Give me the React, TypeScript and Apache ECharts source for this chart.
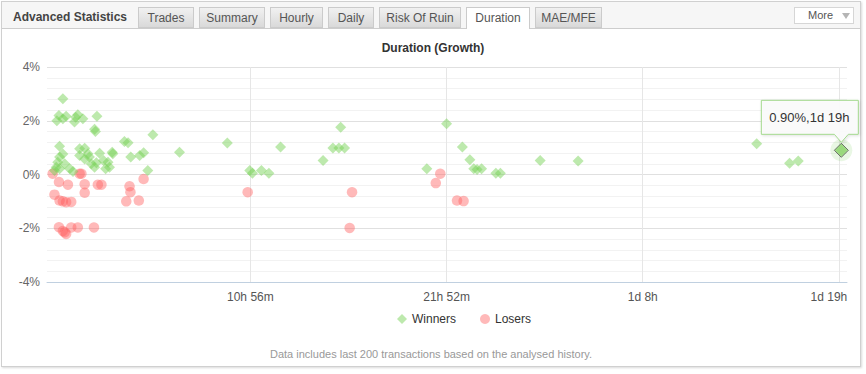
import React, { useEffect, useRef } from "react";
import * as echarts from "echarts";

// ---- data ----
const chartTitle = "Duration (Growth)";
const footerText = "Data includes last 200 transactions based on the analysed history.";
const panelTitle = "Advanced Statistics";
const tabNames = ["Trades", "Summary", "Hourly", "Daily", "Risk Of Ruin", "Duration", "MAE/MFE"];
const activeTab = "Duration";
const seriesNames = ["Winners", "Losers"];

// x tick values in minutes and their labels
const xTicks = [656, 1312, 1968, 2624];
const xTickLabels = ["10h 56m", "21h 52m", "1d 8h", "1d 19h"];

// winners: duration (minutes), growth (%)
const winnersMinutes = [
  29, 16, 9, 29, 40, 72, 79, 68, 96, 143, 135, 138, 18, 29, 18, 12, 7, 18, 1, 35,
  52, 63, 85, 102, 85, 113, 118, 102, 124, 135, 152, 141, 165, 180, 172, 185, 194, 196, 235, 247,
  256, 286, 299, 313, 330, 419, 579, 654, 663, 693, 718, 757, 899, 932, 952, 971, 958, 1246, 1312, 1365,
  1390, 1403, 1414, 1429, 1477, 1492, 1625, 1752, 2349, 2459, 2488, 2632,
];
const winnersGrowth = [
  2.82, 2.2, 2.0, 2.07, 2.17, 2.13, 2.22, 1.95, 2.07, 2.17, 1.68, 1.6, 1.05, 0.76, 0.65, 0.46, 0.27, 0.21, 0.15, 0.4,
  0.21, 0.11, 0.96, 0.98, 0.71, 0.77, 0.65, 0.58, 0.4, 0.27, 0.79, 0.44, 0.52, 0.46, 0.21, 0.27, 0.83, 0.77, 1.23, 1.18,
  0.65, 0.71, 0.81, 0.15, 1.48, 0.83, 1.17, 0.15, 0.05, 0.15, 0.05, 1.02, 0.52, 0.99, 0.99, 0.99, 1.76, 0.21, 1.89, 1.02,
  0.55, 0.21, 0.19, 0.21, 0.05, 0.05, 0.52, 0.5, 1.14, 0.42, 0.5, 0.9,
];

// losers: duration (minutes), growth (%)
const losersMinutes = [
  -5, 16, 46, 1, 18, 29, 40, 57, 85, 91, 102, 102, 146, 158, 252, 255, 241, 283, 299, 16,
  29, 40, 35, 57, 79, 133, 647, 996, 988, 1291, 1276, 1347, 1369,
];
const losersGrowth = [
  0.03, -0.28, -0.38, -0.75, -0.97, -1.0, -1.03, -1.02, 0.03, 0.03, -0.36, -0.68, -0.38, -0.38, -0.44, -0.66, -1.0, -0.97, -0.17, -1.96,
  -2.1, -2.21, -2.15, -1.97, -1.97, -1.97, -0.66, -0.66, -1.99, 0.03, -0.32, -0.97, -0.99,
];

// the point whose tooltip is shown (index into winners)
const hoverIndex = winnersMinutes.length - 1;

// ---- layout (not data) ----
const tabLayout = [
  { left: 138, width: 56 },
  { left: 199, width: 66 },
  { left: 270, width: 53 },
  { left: 328, width: 46 },
  { left: 379, width: 82 },
  { left: 466, width: 64 },
  { left: 535, width: 67 },
];

const FONT = "'Liberation Sans', Arial, sans-serif";

function formatDuration(m: number): string {
  const d = Math.floor(m / 1440);
  const h = Math.floor((m % 1440) / 60);
  const mm = Math.round(m % 60);
  if (d > 0) return `${d}d ${h}h`;
  return `${h}h ${mm}m`;
}

export default function App() {
  const ref = useRef<HTMLDivElement>(null);

  useEffect(() => {
    document.body.style.margin = "0";
    if (!ref.current) return;
    const chart = echarts.init(ref.current, null, { renderer: "svg" });
    const winners = winnersMinutes.map((m, i) => [m, winnersGrowth[i]]);
    const losers = losersMinutes.map((m, i) => [m, losersGrowth[i]]);
    const hov = winners[hoverIndex];

    chart.setOption({
      animation: false,
      backgroundColor: "transparent",
      textStyle: { fontFamily: FONT },
      title: {
        text: chartTitle,
        left: 428,
        top: 37,
        textAlign: "center",
        textStyle: { fontSize: 12, fontWeight: "bold", color: "#333", fontFamily: FONT },
      },
      legend: {
        data: [
          { name: seriesNames[0], icon: "diamond" },
          { name: seriesNames[1], icon: "circle" },
        ],
        left: 392,
        top: 308,
        itemWidth: 10,
        itemHeight: 10,
        itemGap: 24,
        textStyle: { fontSize: 12, color: "#333", fontFamily: FONT },
        selectedMode: false,
      },
      grid: { left: 47, right: 19, top: 67, bottom: 92 },
      xAxis: {
        type: "value",
        min: -24,
        max: 2651,
        axisLine: { show: true, onZero: false, lineStyle: { color: "#c0d0e0", width: 1 } },
        axisTick: { show: false, customValues: xTicks },
        axisLabel: {
          customValues: xTicks,
          color: "#555",
          fontSize: 12,
          fontFamily: FONT,
          margin: 9,
          formatter: (v: number) => {
            const i = xTicks.indexOf(v);
            const t = i >= 0 ? xTickLabels[i] : "";
            return i === xTicks.length - 1 ? `{last|${t}}` : t;
          },
          rich: { last: { padding: [0, 20, 0, 0], color: "#555", fontSize: 12, fontFamily: FONT } },
        },
        splitLine: { show: true, lineStyle: { color: "#e6e6e6", width: 1 } },
      },
      yAxis: {
        type: "value",
        min: -4,
        max: 4,
        interval: 2,
        axisLine: { show: false },
        axisTick: { show: false },
        axisLabel: { formatter: "{value}%", color: "#666", fontSize: 12, fontFamily: FONT, margin: 7 },
        splitLine: { show: true, lineStyle: { color: "#e0e0e0", width: 1 } },
        minorTick: { show: false, splitNumber: 5 },
        minorSplitLine: { show: true, lineStyle: { color: "#f2f2f2", width: 1 } },
      },
      series: [
        {
          name: seriesNames[1],
          type: "scatter",
          symbol: "circle",
          symbolSize: 10.5,
          data: losers,
          itemStyle: { color: "rgba(255,95,95,0.55)" },
        },
        {
          name: seriesNames[0],
          type: "scatter",
          symbol: "diamond",
          symbolSize: 11,
          data: winners,
          itemStyle: { color: "rgba(118,210,84,0.6)" },
        },
        {
          name: "halo",
          type: "scatter",
          symbol: "circle",
          symbolSize: 22,
          silent: true,
          data: [hov],
          itemStyle: { color: "rgba(130,210,100,0.22)" },
        },
        {
          name: "hover",
          type: "scatter",
          symbol: "diamond",
          symbolSize: 14,
          silent: true,
          data: [hov],
          itemStyle: { color: "#92d673", borderColor: "#555", borderWidth: 1 },
        },
      ],
    });

    const p = chart.convertToPixel({ gridIndex: 0 }, hov) as number[];
    const tipText = `${hov[1].toFixed(2)}%,${formatDuration(hov[0])}`;
    chart.setOption({
      graphic: [
        {
          type: "polygon",
          z: 100,
          shape: {
            points: [
              [p[0] - 80, p[1] - 50],
              [p[0] + 17, p[1] - 50],
              [p[0] + 17, p[1] - 16],
              [p[0] + 7, p[1] - 16],
              [p[0], p[1] - 8],
              [p[0] - 7, p[1] - 16],
              [p[0] - 80, p[1] - 16],
            ],
          },
          style: {
            fill: "rgba(251,251,251,0.93)",
            stroke: "#a3da8e",
            lineWidth: 1,
            shadowBlur: 3,
            shadowColor: "rgba(0,0,0,0.12)",
            shadowOffsetX: 1,
            shadowOffsetY: 1,
          },
        },
        {
          type: "text",
          z: 101,
          x: p[0] - 32,
          y: p[1] - 33,
          style: {
            text: tipText,
            align: "center",
            verticalAlign: "middle",
            fill: "#333",
            font: `13px ${FONT}`,
          },
        },
        {
          type: "text",
          x: 431,
          y: 354,
          style: {
            text: footerText,
            align: "center",
            verticalAlign: "middle",
            fill: "#999",
            font: `11px ${FONT}`,
          },
        },
      ],
    });

    return () => chart.dispose();
  }, []);

  return (
    <div style={{ position: "absolute", left: 0, top: 0, width: 866, height: 374, background: "#fff", fontFamily: FONT, overflow: "hidden" }}>
      <div
        style={{
          position: "absolute",
          left: 1,
          top: 1,
          width: 858,
          height: 364,
          border: "1px solid #d0d0d0",
          boxShadow: "1px 1px 2px rgba(0,0,0,0.15)",
          background: "#fff",
        }}
      />
      <div
        style={{
          position: "absolute",
          left: 2,
          top: 2,
          width: 858,
          height: 26,
          background: "#f6f6f6",
          borderBottom: "1px solid #cdcdcd",
        }}
      />
      <div ref={ref} style={{ position: "absolute", left: 0, top: 0, width: 866, height: 374 }} />
      <div
        style={{
          position: "absolute",
          left: 13,
          top: 9,
          fontSize: 12,
          fontWeight: "bold",
          color: "#444",
          lineHeight: "16px",
          whiteSpace: "nowrap",
        }}
      >
        {panelTitle}
      </div>
      {tabNames.map((name, i) => {
        const active = name === activeTab;
        return (
          <div
            key={name}
            style={{
              position: "absolute",
              left: tabLayout[i].left,
              top: 7,
              width: tabLayout[i].width,
              height: active ? 22 : 21,
              boxSizing: "border-box",
              border: "1px solid #cbcbcb",
              borderBottom: active ? "none" : "1px solid #cbcbcb",
              background: active ? "#fff" : "linear-gradient(#f1f1f1, #d9d9d9)",
              color: "#555",
              fontSize: 12,
              lineHeight: "20px",
              textAlign: "center",
              whiteSpace: "nowrap",
            }}
          >
            {name}
          </div>
        );
      })}
      <div
        style={{
          position: "absolute",
          left: 794,
          top: 7,
          width: 60,
          height: 17,
          boxSizing: "border-box",
          border: "1px solid #d6d6d6",
          background: "#fff",
          color: "#555",
          fontSize: 11,
          lineHeight: "15px",
        }}
      >
        <span style={{ position: "absolute", left: 13 }}>More</span>
        <span
          style={{
            position: "absolute",
            left: 47,
            top: 5,
            width: 0,
            height: 0,
            borderLeft: "4px solid transparent",
            borderRight: "4px solid transparent",
            borderTop: "6px solid #b5b5b5",
          }}
        />
      </div>
    </div>
  );
}
